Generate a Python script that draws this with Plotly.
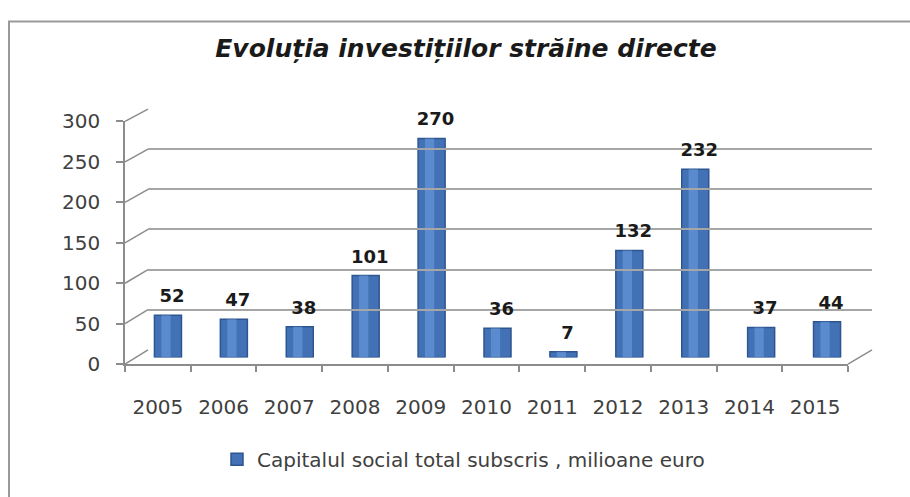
import plotly.graph_objects as go

W, H = 910, 497

years = ["2005", "2006", "2007", "2008", "2009", "2010", "2011", "2012", "2013", "2014", "2015"]
values = [52, 47, 38, 101, 270, 36, 7, 132, 232, 37, 44]
y_ticks = [0, 50, 100, 150, 200, 250, 300]
series_name = "Capitalul social total subscris , milioane euro"
title_text = "Evoluția investițiilor străine directe"


def px(x):
    return x / W


def py(y):
    return 1 - y / H


# axis geometry (pseudo 3D: front axis, bar plane, back wall)
YMAX = 300
BAR_SCALE = 0.852
front_x = [px(125), px(848)]
front_y = [py(370), py(115)]
bar_x = [px(135), px(860)]
bar_y = [py(363), py(363 - BAR_SCALE * YMAX)]
lab_x = [px(139), px(864)]
lab_y = [py(354), py(354 - BAR_SCALE * YMAX)]
back_x = [px(148), px(872)]
back_y = [py(355), py(102)]
n = len(years)
xr = [-0.5, n - 0.5]

text_col = "#404040"
grid_col = "#a6a6a6"
axis_col = "#8c8c8c"

fig = go.Figure()

# back wall (gridlines) subplot
fig.add_trace(go.Scatter(x=years, y=values, xaxis="x3", yaxis="y3", mode="markers",
                         marker=dict(opacity=0), hoverinfo="skip", showlegend=False))
# front axis subplot
fig.add_trace(go.Scatter(x=years, y=values, xaxis="x", yaxis="y", mode="markers",
                         marker=dict(opacity=0), hoverinfo="skip", showlegend=False))
# bars (cylinder look: body + highlight)
fig.add_trace(go.Bar(x=years, y=values, xaxis="x2", yaxis="y2", name=series_name,
                     width=0.41, marker=dict(color="#4272b5", line=dict(color="#2d5590", width=1.5)),
                     showlegend=True))
fig.add_trace(go.Bar(x=years, y=values, xaxis="x2", yaxis="y2", name="hl",
                     width=0.14, offset=-0.1, marker=dict(color="#6a9ce0", line=dict(width=0), opacity=0.6),
                     showlegend=False, hoverinfo="skip"))
# data labels
fig.add_trace(go.Scatter(x=years, y=values, xaxis="x4", yaxis="y4", mode="text",
                         text=["<b>%d</b>" % v for v in values], textposition="top center",
                         textfont=dict(family="DejaVu Sans", size=18, color="#1a1a1a"),
                         hoverinfo="skip", showlegend=False))

shapes = []
# perspective lead-in lines from front axis to back wall at each tick
for t in y_ticks:
    yf = front_y[0] + t / YMAX * (front_y[1] - front_y[0])
    yb = back_y[0] + t / YMAX * (back_y[1] - back_y[0])
    shapes.append(dict(type="line", xref="paper", yref="paper", x0=front_x[0], y0=yf,
                       x1=back_x[0], y1=yb, line=dict(color=axis_col, width=1.5)))
# floor right edge
shapes.append(dict(type="line", xref="paper", yref="paper", x0=front_x[1], y0=front_y[0],
                   x1=back_x[1], y1=back_y[0], line=dict(color=axis_col, width=1.5)))
# chart frame
shapes.append(dict(type="rect", xref="paper", yref="paper", x0=px(9), y0=py(520), x1=px(930), y1=py(10),
                   line=dict(color="#9a9a9a", width=2), fillcolor="rgba(0,0,0,0)", layer="below"))


def hidden_cat(domain, anchor):
    return dict(domain=domain, anchor=anchor, type="category", categoryorder="array",
                categoryarray=years, range=xr, showgrid=False, zeroline=False, showline=False,
                showticklabels=False, ticks="", fixedrange=True)


def hidden_lin(domain, anchor):
    return dict(domain=domain, anchor=anchor, range=[0, YMAX], showgrid=False, zeroline=False,
                showline=False, showticklabels=False, ticks="", fixedrange=True)


yaxis3 = hidden_lin(back_y, "x3")
yaxis3.update(tickvals=y_ticks, showgrid=True, gridcolor=grid_col, gridwidth=2)

fig.update_layout(
    width=W, height=H, autosize=False,
    margin=dict(l=0, r=0, t=0, b=0),
    paper_bgcolor="white", plot_bgcolor="rgba(0,0,0,0)",
    barmode="overlay",
    shapes=shapes,
    title=dict(text="<b><i>" + title_text + "</i></b>", x=px(466), xanchor="center",
               y=py(48), yanchor="middle",
               font=dict(family="DejaVu Sans", size=25, color="#1a1a1a")),
    xaxis=dict(domain=front_x, anchor="y", type="category", categoryorder="array", categoryarray=years,
               range=xr, showgrid=False, zeroline=False, showline=True, linecolor=axis_col, linewidth=1.5,
               ticks="outside", tickson="boundaries", ticklen=6, tickcolor=axis_col, tickwidth=1.5,
               ticklabelstandoff=24,
               tickfont=dict(family="DejaVu Sans", size=20, color=text_col), fixedrange=True),
    yaxis=dict(domain=front_y, anchor="x", range=[0, YMAX], tickvals=y_ticks, showgrid=False,
               zeroline=False, showline=True, linecolor=axis_col, linewidth=1.5,
               ticks="outside", ticklen=7, tickcolor=axis_col, tickwidth=1.5, ticklabelstandoff=12,
               tickfont=dict(family="DejaVu Sans", size=20, color=text_col), fixedrange=True),
    xaxis2=hidden_cat(bar_x, "y2"),
    yaxis2=hidden_lin(bar_y, "x2"),
    xaxis3=hidden_cat(back_x, "y3"),
    yaxis3=yaxis3,
    xaxis4=hidden_cat(lab_x, "y4"),
    yaxis4=hidden_lin(lab_y, "x4"),
    legend=dict(orientation="h", x=px(217), xanchor="left", y=py(470), yanchor="middle",
                font=dict(family="DejaVu Sans", size=20, color=text_col),
                bgcolor="rgba(0,0,0,0)", itemclick=False, itemdoubleclick=False),
    showlegend=True,
)

fig.write_html("out.html", config={"displayModeBar": False},
               post_script="document.body.style.margin='0px';")
